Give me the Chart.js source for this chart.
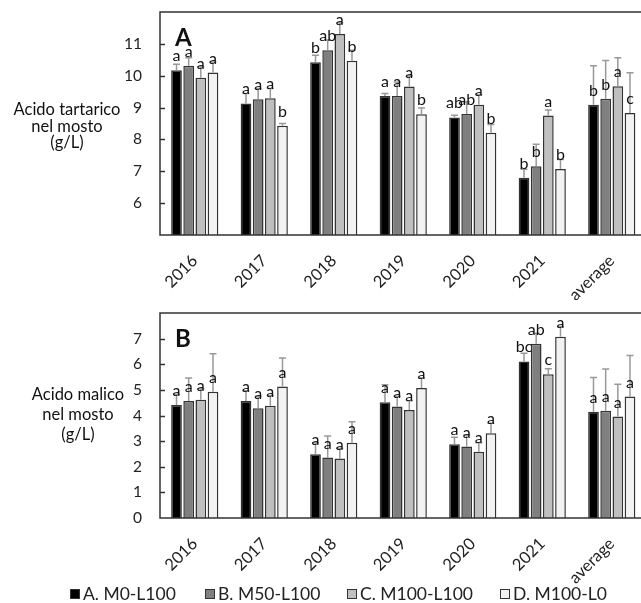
<!DOCTYPE html>
<html>
<head>
<meta charset="utf-8">
<script src="https://cdn.jsdelivr.net/npm/chart.js@4.4.1/dist/chart.umd.min.js"></script>
<style>
  html, body { margin: 0; padding: 0; background: #fff; overflow: hidden; }
  #wrap { position: relative; width: 641px; height: 603px; overflow: hidden; }
  canvas { position: absolute; left: 0; }
  #cA { top: 0; }
  #cB { top: 300px; }
  .leg { position: absolute; top: 584px; font: 17.5px Lato, sans-serif; color: #222; white-space: nowrap; line-height: 20px; }
  .leg i { display: inline-block; width: 8px; height: 8px; border: 1px solid #333; margin-right: 3px; vertical-align: 1px; }
</style>
</head>
<body>
<div id="wrap">
  <canvas id="cA" width="660" height="300"></canvas>
  <canvas id="cB" width="660" height="303"></canvas>
  <div id="legend"></div>
</div>
<script>
const years = ['2016', '2017', '2018', '2019', '2020', '2021', 'average'];
const treatments = ['A. M0-L100', 'B. M50-L100', 'C. M100-L100', 'D. M100-L0'];
const fills = ['#000000', '#7f7f7f', '#bfbfbf', '#f2f2f2'];

// acido tartarico (g/L), one array per treatment
const tartA = [10.17, 9.13, 10.42, 9.36, 8.69, 6.80, 9.09];
const tartB = [10.31, 9.26, 10.80, 9.36, 8.80, 7.16, 9.28];
const tartC = [9.94, 9.29, 11.31, 9.66, 9.09, 8.75, 9.67];
const tartD = [10.10, 8.43, 10.47, 8.79, 8.21, 7.07, 8.83];
const tartErrA = [0.19, 0.31, 0.22, 0.08, 0.07, 0.26, 1.22];
const tartErrB = [0.25, 0.34, 0.32, 0.44, 0.38, 0.69, 1.20];
const tartErrC = [0.34, 0.31, 0.35, 0.34, 0.32, 0.17, 0.89];
const tartErrD = [0.33, 0.07, 0.33, 0.20, 0.26, 0.30, 1.26];
const tartLetA = ['a', 'a', 'b', 'a', 'ab', 'b', 'b'];
const tartLetB = ['a', 'a', 'ab', 'a', 'ab', 'b', 'b'];
const tartLetC = ['a', 'a', 'a', 'a', 'a', 'a', 'a'];
const tartLetD = ['a', 'b', 'b', 'b', 'b', 'b', 'c'];

// acido malico (g/L)
const malA = [4.41, 4.57, 2.49, 4.52, 2.88, 6.11, 4.15];
const malB = [4.57, 4.28, 2.36, 4.35, 2.79, 6.80, 4.19];
const malC = [4.61, 4.38, 2.32, 4.21, 2.59, 5.61, 3.96];
const malD = [4.93, 5.13, 2.94, 5.07, 3.31, 7.07, 4.74];
const malErrA = [0.42, 0.40, 0.45, 0.68, 0.27, 0.32, 1.33];
const malErrB = [0.89, 0.46, 0.84, 0.40, 0.45, 0.41, 1.62];
const malErrC = [0.43, 0.40, 0.40, 0.37, 0.35, 0.21, 1.26];
const malErrD = [1.48, 1.11, 0.82, 0.39, 0.39, 0.40, 1.60];
const malLetA = ['a', 'a', 'a', 'a', 'a', 'bc', 'a'];
const malLetB = ['a', 'a', 'a', 'a', 'a', 'ab', 'a'];
const malLetC = ['a', 'a', 'a', 'a', 'a', 'c', 'a'];
const malLetD = ['a', 'a', 'a', 'a', 'a', 'a', 'a'];

const FONT = 'Lato, sans-serif';

// frame, inward y ticks, error bars, significance letters, side title, panel letter
const decor = {
    id: 'decor',
    afterDatasetsDraw(chart, args, opts) {
        const { ctx, chartArea: ca, scales: { y } } = chart;
        ctx.save();
        ctx.strokeStyle = '#333';
        ctx.lineWidth = 1.5;
        ctx.strokeRect(ca.left, ca.top, ca.right - ca.left, ca.bottom - ca.top);
        y.ticks.forEach(t => {
            if (t.value <= y.min || t.value >= y.max) return;
            const py = Math.round(y.getPixelForValue(t.value)) + 0.5;
            ctx.beginPath();
            ctx.moveTo(ca.left, py);
            ctx.lineTo(ca.left + 5, py);
            ctx.stroke();
        });

        chart.data.datasets.forEach((ds, i) => {
            const meta = chart.getDatasetMeta(i);
            meta.data.forEach((bar, j) => {
                const top = y.getPixelForValue(ds.data[j] + ds.err[j]);
                ctx.strokeStyle = '#999';
                ctx.lineWidth = 1.5;
                ctx.beginPath();
                ctx.moveTo(bar.x, bar.y);
                ctx.lineTo(bar.x, top);
                ctx.moveTo(bar.x - 3.5, top);
                ctx.lineTo(bar.x + 3.5, top);
                ctx.stroke();
            });
        });
        ctx.fillStyle = '#111';
        ctx.font = '16px ' + FONT;
        ctx.textAlign = 'center';
        ctx.textBaseline = 'alphabetic';
        chart.data.datasets.forEach((ds, i) => {
            chart.getDatasetMeta(i).data.forEach((bar, j) => {
                ctx.fillText(ds.letters[j], bar.x, bar.y - 9);
            });
        });

        ctx.font = 'bold 24px ' + FONT;
        ctx.textAlign = 'left';
        ctx.fillText(opts.panel, ca.left + 15, ca.top + 34);

        ctx.font = '16.5px ' + FONT;
        ctx.textAlign = 'center';
        ctx.textBaseline = 'middle';
        opts.title.forEach((line, k) => ctx.fillText(line, opts.titleX, opts.titleY + k * opts.lineH));
        ctx.restore();
    }
};

function makeChart(id, series, errs, letters, yMin, yMax, xH, top, panel, title, titleX, titleY, lineH) {
    return new Chart(document.getElementById(id), {
        type: 'bar',
        data: {
            labels: years,
            datasets: series.map((s, i) => ({
                label: treatments[i],
                data: s,
                err: errs[i],
                letters: letters[i],
                backgroundColor: fills[i],
                borderColor: '#333',
                borderWidth: 1.5,
                categoryPercentage: 0.7,
                barPercentage: 0.88
            }))
        },
        options: {
            responsive: false,
            animation: false,
            layout: { padding: { top: top, right: 13.5, left: 0, bottom: 0 } },
            plugins: {
                legend: { display: false },
                tooltip: { enabled: false },
                decor: { panel, title, titleX, titleY, lineH }
            },
            scales: {
                x: {
                    grid: { display: false, drawTicks: false },
                    border: { display: false },
                    ticks: { color: '#222', font: { family: FONT, size: 16.5 }, minRotation: 45, maxRotation: 45, padding: 16 },
                    afterFit: s => { s.height = xH; s.paddingLeft = 0; s.paddingRight = 0; }
                },
                y: {
                    min: yMin,
                    max: yMax,
                    grid: { display: false, drawTicks: false },
                    border: { display: false },
                    ticks: {
                        stepSize: 1,
                        padding: 18,
                        color: '#222',
                        font: { family: FONT, size: 15.5 },
                        callback: v => (v === yMax || (v === yMin && yMin !== 0)) ? '' : v
                    },
                    afterFit: s => { s.width = 160; s.paddingTop = 0; s.paddingBottom = 0; }
                }
            }
        },
        plugins: [decor]
    });
}

makeChart('cA', [tartA, tartB, tartC, tartD], [tartErrA, tartErrB, tartErrC, tartErrD],
    [tartLetA, tartLetB, tartLetC, tartLetD], 5, 12, 65, 12, 'A',
    ['Acido tartarico', 'nel mosto', '(g/L)'], 67, 110, 16.5);
makeChart('cB', [malA, malB, malC, malD], [malErrA, malErrB, malErrC, malErrD],
    [malLetA, malLetB, malLetC, malLetD], 0, 8, 85, 13, 'B',
    ['Acido malico', 'nel mosto', '(g/L)'], 78, 95, 20);

const legendLeft = [70, 205, 347, 500];
document.getElementById('legend').innerHTML = treatments.map((t, i) =>
    `<div class="leg" style="left:${legendLeft[i]}px"><i style="background:${fills[i]}"></i>${t}</div>`
).join('');
</script>
</body>
</html>
